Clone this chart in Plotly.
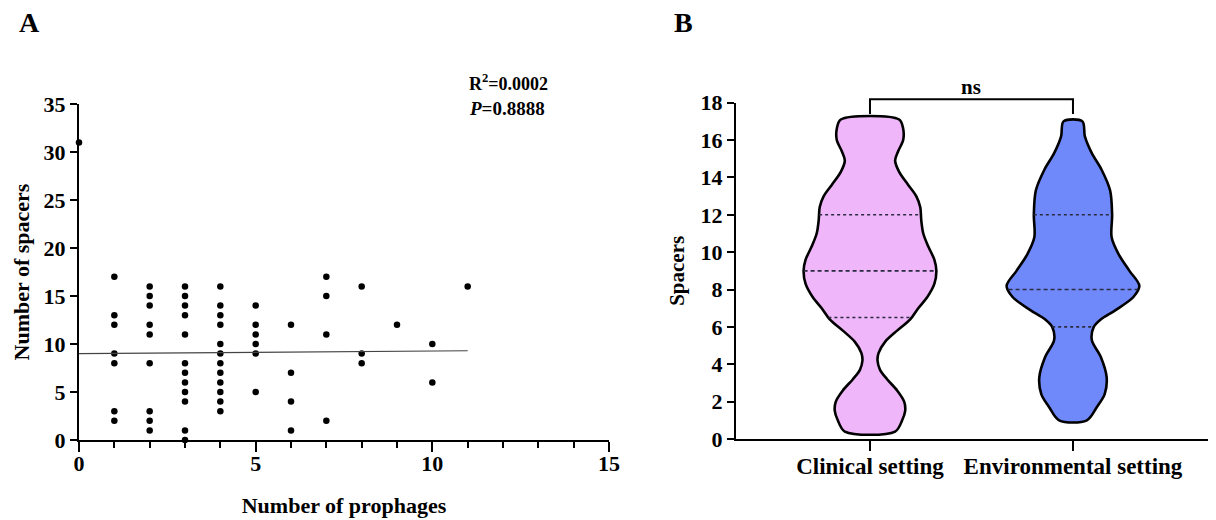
import numpy as np
import plotly.graph_objects as go

# ---------------- Panel A data ----------------
prophages = [0,
             1, 1, 1, 1, 1, 1, 1,
             2, 2, 2, 2, 2, 2, 2, 2, 2,
             3, 3, 3, 3, 3, 3, 3, 3, 3, 3, 3, 3,
             4, 4, 4, 4, 4, 4, 4, 4, 4, 4, 4, 4,
             5, 5, 5, 5, 5, 5,
             6, 6, 6, 6,
             7, 7, 7, 7,
             8, 8, 8,
             9,
             10, 10,
             11]
spacers = [31,
           17, 13, 12, 9, 8, 3, 2,
           16, 15, 14, 12, 11, 8, 3, 2, 1,
           16, 15, 14, 13, 11, 8, 7, 6, 5, 4, 1, 0,
           16, 14, 13, 12, 10, 9, 8, 7, 6, 5, 4, 3,
           14, 12, 11, 10, 9, 5,
           12, 7, 4, 1,
           17, 15, 11, 2,
           16, 9, 8,
           12,
           10, 6,
           16]
fit_intercept = 9.0
fit_slope = 0.027
fit_x_span = [0, 11]
r2_text = "R<sup>2</sup>=0.0002"
p_text = "<i>P</i>=0.8888"

# ---------------- Panel B data ----------------
groups = ["Clinical setting", "Environmental setting"]
clin_y = [17.1, 16.6, 16.0, 15.4, 14.9, 14.3, 13.6, 13.0, 12.4, 11.7, 11.0, 10.3,
          9.6, 9.0, 8.3, 7.6, 7.0, 6.4, 5.8, 5.2, 4.6, 4.2, 3.7, 3.2, 2.6, 2.0,
          1.5, 1.0, 0.4]
clin_density = [29, 33, 33, 28, 25, 29, 38, 46, 50, 51, 53, 58,
                64, 66, 64, 57, 48, 40, 27, 15, 8.5, 7.5, 10, 17, 27, 34,
                35, 32, 25]
env_y = [17.0, 16.2, 15.3, 14.4, 13.3, 12.0, 10.8, 9.9, 9.0, 8.2, 7.6, 6.9,
         6.4, 6.0, 5.3, 4.4, 3.3, 2.4, 1.7, 1.0]
env_density = [9.5, 12, 19, 29, 37.5, 39.5, 39, 46, 57, 67, 61, 43,
               28, 21, 19, 28, 34, 32, 24, 14]
medians = [9, 8]
q1 = [6.5, 6]
q3 = [12, 12]
fills = ["#F0B6FA", "#7089FA"]
sig_label = "ns"

FONT = "Liberation Serif, Times New Roman, serif"
HALF_MAX = 0.327

# page has an 8px body margin: figure is placed at (8, 8)
W, H, OFF = 1208, 512, 8
def px(x):
    return (x - OFF) / W
def py(y):
    return 1 - (y - OFF) / H

fig = go.Figure()

# Panel A scatter
fig.add_trace(go.Scatter(
    x=prophages, y=spacers, mode="markers",
    marker=dict(color="black", size=6.5),
    cliponaxis=False, showlegend=False, xaxis="x", yaxis="y"))
fx = np.array(fit_x_span, dtype=float)
fig.add_trace(go.Scatter(
    x=fx, y=fit_intercept + fit_slope * fx, mode="lines",
    line=dict(color="#444444", width=1.2),
    showlegend=False, xaxis="x", yaxis="y"))

# Panel B violins
profiles = [(clin_y, clin_density), (env_y, env_density)]
for i, (yy, dd) in enumerate(profiles):
    yy = np.array(yy, dtype=float)
    dd = np.array(dd, dtype=float)
    hw = dd / dd.max() * HALF_MAX
    xs = list(i + hw[::-1]) + list(i - hw)
    ys = list(yy[::-1]) + list(yy)
    xs.append(xs[0]); ys.append(ys[0])
    fig.add_trace(go.Scatter(
        x=xs, y=ys, mode="lines", fill="toself", fillcolor=fills[i],
        line=dict(color="black", width=2.6, shape="spline", smoothing=0.9),
        showlegend=False, xaxis="x2", yaxis="y2", hoverinfo="skip"))
    order = np.argsort(yy)
    for val, dash, w in [(medians[i], "4px,3px", 1.6), (q1[i], "dot", 1.6), (q3[i], "dot", 1.6)]:
        h = np.interp(val, yy[order], hw[order])
        fig.add_trace(go.Scatter(
            x=[i - h, i + h], y=[val, val], mode="lines",
            line=dict(color="#2a2a40", width=w, dash=dash),
            showlegend=False, xaxis="x2", yaxis="y2", hoverinfo="skip"))

yb_range = [0, 18]
yb_dom = [py(439), py(102.7)]
def yfrac(v):
    return (v - yb_range[0]) / (yb_range[1] - yb_range[0])
def ypaper_b(v):
    return yb_dom[0] + yfrac(v) * (yb_dom[1] - yb_dom[0])

bracket_top = 18.18
bracket_leg = 17.4
fig.add_shape(type="path",
              path=f"M 0 {yfrac(bracket_leg)} L 0 {yfrac(bracket_top)} L 1 {yfrac(bracket_top)} L 1 {yfrac(bracket_leg)}",
              xref="x2", yref="y2 domain", line=dict(color="black", width=2))

def tfont(size):
    return dict(family=FONT, size=size, color="black", weight="bold")

axis_common = dict(showline=True, linecolor="black", linewidth=2.2, ticks="outside",
                   tickcolor="black", tickwidth=2.2, showgrid=False, zeroline=False)

fig.update_layout(
    width=W, height=H, autosize=False,
    margin=dict(l=0, r=0, t=0, b=0, autoexpand=False),
    paper_bgcolor="white", plot_bgcolor="white",
    xaxis=dict(domain=[px(79), px(609)], range=[0, 15], tickvals=[0, 5, 10, 15],
               ticklen=10, anchor="y", tickfont=tfont(22), ticklabelstandoff=-8,
               minor=dict(dtick=1, ticklen=6, tickwidth=2.2, tickcolor="black", ticks="outside"),
               title=dict(text="Number of prophages", standoff=23, font=tfont(22)),
               **axis_common),
    yaxis=dict(domain=[py(440), py(104)], range=[0, 35], dtick=5, ticklen=7,
               anchor="x", tickfont=tfont(22),
               title=dict(text="Number of spacers", standoff=8, font=tfont(22)),
               **axis_common),
    xaxis2=dict(domain=[px(736), px(1210)], range=[-0.66, 1.675], tickvals=[0, 1],
                ticktext=groups, ticklen=10, anchor="y2", tickfont=tfont(23),
                ticklabelstandoff=-5, **axis_common),
    yaxis2=dict(domain=yb_dom, range=yb_range, dtick=2, ticklen=7,
                anchor="x2", tickfont=tfont(22),
                title=dict(text="Spacers", standoff=10, font=tfont(21)),
                **axis_common),
    annotations=[
        dict(text="A", x=px(29), y=py(22), xref="paper", yref="paper", showarrow=False,
             xanchor="center", yanchor="middle", font=tfont(28)),
        dict(text="B", x=px(683), y=py(22), xref="paper", yref="paper", showarrow=False,
             xanchor="center", yanchor="middle", font=tfont(28)),
        dict(text=r2_text, x=px(467), y=py(82), xref="paper", yref="paper", xanchor="left",
             yanchor="middle", showarrow=False, font=tfont(18)),
        dict(text=p_text, x=px(467), y=py(108), xref="paper", yref="paper", xanchor="left",
             yanchor="middle", showarrow=False, font=tfont(19)),
        dict(text=sig_label, x=0.5, y=ypaper_b(18.85), xref="x2", yref="paper", showarrow=False,
             xanchor="center", yanchor="middle", font=tfont(21)),
    ],
)

fig.write_html("out.html")
